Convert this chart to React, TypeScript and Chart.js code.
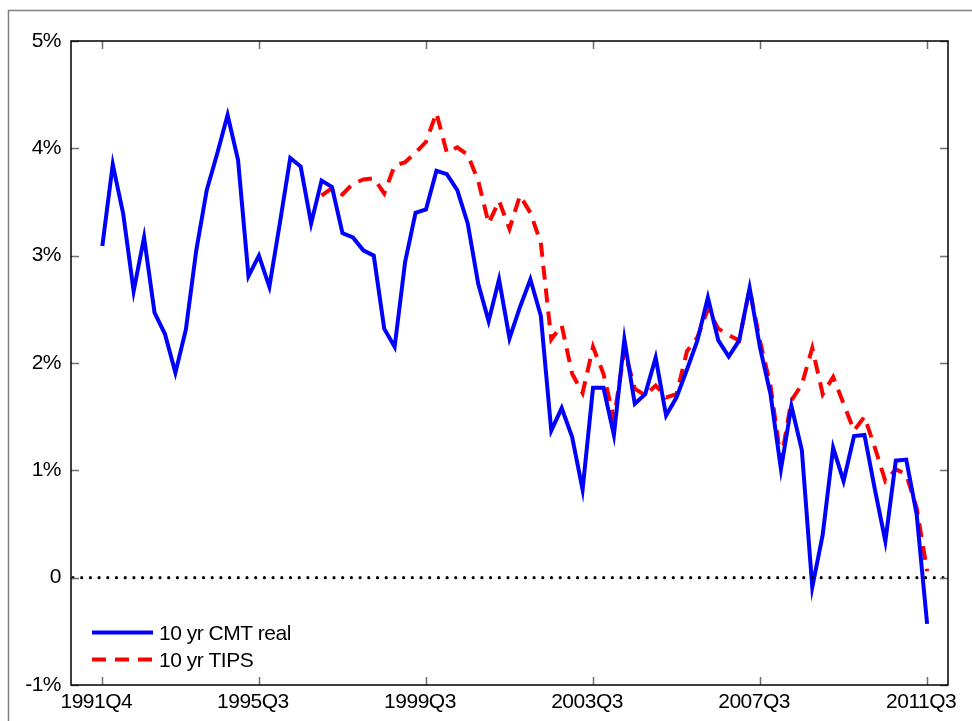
import { useEffect, useRef } from "react";
import { Chart, registerables } from "chart.js";

Chart.register(...registerables);

// Quarterly observations, 1991Q4 .. 2011Q3 (index 0 .. 79)
const cmtReal: number[] = [
  3.09, 3.85, 3.39, 2.67, 3.17, 2.47, 2.27, 1.91, 2.31, 3.05,
  3.61, 3.95, 4.31, 3.89, 2.81, 3.0, 2.71, 3.3, 3.91, 3.83,
  3.3, 3.7, 3.64, 3.21, 3.17, 3.05, 3.0, 2.32, 2.15, 2.94,
  3.4, 3.43, 3.79, 3.76, 3.61, 3.3, 2.74, 2.39, 2.78, 2.23,
  2.52, 2.78, 2.44, 1.37, 1.58, 1.31, 0.82, 1.77, 1.77, 1.33,
  2.22, 1.62, 1.71, 2.05, 1.51, 1.68, 1.94, 2.21, 2.61, 2.21,
  2.06, 2.21, 2.7, 2.14, 1.71, 1.01, 1.6, 1.19, -0.09, 0.4,
  1.21, 0.9, 1.32, 1.33, 0.82, 0.34, 1.09, 1.1, 0.59, -0.43,
];

// TIPS series begins at 1997Q1 (index 21)
const tipsStartIndex = 21;
const tipsValues: number[] = [
  3.56, 3.63, 3.57, 3.67, 3.71, 3.72, 3.58, 3.84, 3.87, 3.96,
  4.06, 4.33, 3.96, 4.01, 3.94, 3.7, 3.3, 3.51, 3.25, 3.56,
  3.4, 3.12, 2.22, 2.35, 1.9, 1.72, 2.15, 1.9, 1.48, 2.12,
  1.76, 1.7, 1.79, 1.68, 1.71, 2.11, 2.24, 2.5, 2.32, 2.26,
  2.21, 2.69, 2.2, 1.79, 1.09, 1.65, 1.8, 2.14, 1.71, 1.87,
  1.62, 1.37, 1.5, 1.21, 0.9, 1.01, 0.96, 0.65, 0.06,
];

const xTickIndex: number[] = [0, 15, 31, 47, 63, 79];
const xTickLabels: string[] = ["1991Q4", "1995Q3", "1999Q3", "2003Q3", "2007Q3", "2011Q3"];
const yTickValues: number[] = [-1, 0, 1, 2, 3, 4, 5];
const yTickLabels: string[] = ["-1%", "0", "1%", "2%", "3%", "4%", "5%"];

const seriesLabels: string[] = ["10 yr CMT real", "10 yr TIPS"];

const FONT = '"Liberation Sans", Arial, Helvetica, sans-serif';
const FONT_SIZE = 21;

const decorPlugin = {
  id: "decor",
  beforeDraw(chart: any) {
    const ctx = chart.ctx;
    try {
      ctx.letterSpacing = "-0.5px";
    } catch (e) {
      /* ignore */
    }
    ctx.save();
    ctx.strokeStyle = "#7f7f7f";
    ctx.lineWidth = 1.5;
    ctx.beginPath();
    ctx.moveTo(8.5, chart.height);
    ctx.lineTo(8.5, 10.5);
    ctx.lineTo(chart.width, 10.5);
    ctx.stroke();
    ctx.restore();
  },
  afterDatasetsDraw(chart: any) {
    const ctx = chart.ctx;
    const { left, right, top, bottom } = chart.chartArea;
    const xs = chart.scales.x;
    const ys = chart.scales.y;
    ctx.save();
    // zero dotted line
    const y0 = ys.getPixelForValue(0);
    ctx.strokeStyle = "#000";
    ctx.lineWidth = 3.2;
    ctx.lineCap = "round";
    ctx.setLineDash([0, 8.7]);
    ctx.beginPath();
    ctx.moveTo(left + 2, y0);
    ctx.lineTo(right, y0);
    ctx.stroke();
    ctx.setLineDash([]);
    ctx.lineCap = "butt";
    // ticks (inward)
    ctx.strokeStyle = "#6e6e6e";
    ctx.lineWidth = 1.5;
    const tl = 8;
    ctx.beginPath();
    xTickIndex.forEach((v) => {
      const x = Math.round(xs.getPixelForValue(v)) + 0.5;
      ctx.moveTo(x, top);
      ctx.lineTo(x, top + tl);
      ctx.moveTo(x, bottom);
      ctx.lineTo(x, bottom - tl);
    });
    yTickValues.forEach((v) => {
      const y = Math.round(ys.getPixelForValue(v)) + 0.5;
      ctx.moveTo(left, y);
      ctx.lineTo(left + tl, y);
      ctx.moveTo(right, y);
      ctx.lineTo(right - tl, y);
    });
    ctx.stroke();
    // axes box
    ctx.strokeStyle = "#000";
    ctx.lineWidth = 1.5;
    ctx.strokeRect(left, top, right - left, bottom - top);
    ctx.restore();
  },
  afterDraw(chart: any) {
    const ctx = chart.ctx;
    ctx.save();
    const x0 = 92;
    const x1 = 153;
    const rows = [632.5, 659.5];
    chart.data.datasets.forEach((ds: any, i: number) => {
      const y = rows[i];
      ctx.strokeStyle = ds.borderColor;
      ctx.lineWidth = ds.borderWidth;
      ctx.setLineDash(ds.borderDash || []);
      ctx.beginPath();
      ctx.moveTo(x0, y);
      ctx.lineTo(x1, y);
      ctx.stroke();
      ctx.setLineDash([]);
      ctx.fillStyle = "#000";
      ctx.font = `${FONT_SIZE}px ${FONT}`;
      ctx.textAlign = "left";
      ctx.textBaseline = "middle";
      ctx.fillText(ds.label, 159, y + 1.5);
    });
    ctx.restore();
  },
};

export default function App() {
  const canvasRef = useRef<HTMLCanvasElement | null>(null);

  useEffect(() => {
    if (!canvasRef.current) return;
    const blueData = cmtReal.map((v, i) => ({ x: i, y: v }));
    const redData = tipsValues.map((v, i) => ({ x: i + tipsStartIndex, y: v }));

    const chart = new Chart(canvasRef.current, {
      type: "line",
      data: {
        datasets: [
          {
            label: seriesLabels[0],
            data: blueData,
            borderColor: "#0000ff",
            borderWidth: 4,
            pointRadius: 0,
            tension: 0,
            fill: false,
          },
          {
            label: seriesLabels[1],
            data: redData,
            borderColor: "#ff0000",
            borderWidth: 4,
            borderDash: [14, 9],
            pointRadius: 0,
            tension: 0,
            fill: false,
          },
        ],
      },
      options: {
        animation: false,
        responsive: false,
        devicePixelRatio: 1,
        layout: { padding: { top: 41, right: 24, left: 0, bottom: 0 } },
        plugins: {
          legend: { display: false },
          tooltip: { enabled: false },
        },
        scales: {
          x: {
            type: "linear",
            min: -3,
            max: 81,
            grid: { display: false, drawTicks: false },
            border: { display: false },
            afterBuildTicks: (scale: any) => {
              scale.ticks = xTickIndex.map((v) => ({ value: v }));
            },
            afterFit: (scale: any) => {
              scale.height = 36;
            },
            ticks: {
              autoSkip: false,
              maxRotation: 0,
              padding: 5,
              labelOffset: -6,
              color: "#000",
              font: { family: FONT, size: FONT_SIZE },
              callback: (value: any) => {
                const k = xTickIndex.indexOf(Number(value));
                return k >= 0 ? xTickLabels[k] : "";
              },
            },
          },
          y: {
            type: "linear",
            min: -1,
            max: 5,
            grid: { display: false, drawTicks: false },
            border: { display: false },
            afterBuildTicks: (scale: any) => {
              scale.ticks = yTickValues.map((v) => ({ value: v }));
            },
            afterFit: (scale: any) => {
              scale.width = 71;
            },
            ticks: {
              padding: 10,
              color: "#000",
              font: { family: FONT, size: FONT_SIZE },
              callback: (value: any) => {
                const k = yTickValues.indexOf(Number(value));
                return k >= 0 ? yTickLabels[k] : "";
              },
            },
          },
        },
      },
      plugins: [decorPlugin],
    } as any);

    return () => chart.destroy();
  }, []);

  return (
    <div style={{ position: "fixed", left: 0, top: 0, width: 972, height: 721, background: "#fff" }}>
      <canvas ref={canvasRef} width={972} height={721} style={{ display: "block" }} />
    </div>
  );
}
